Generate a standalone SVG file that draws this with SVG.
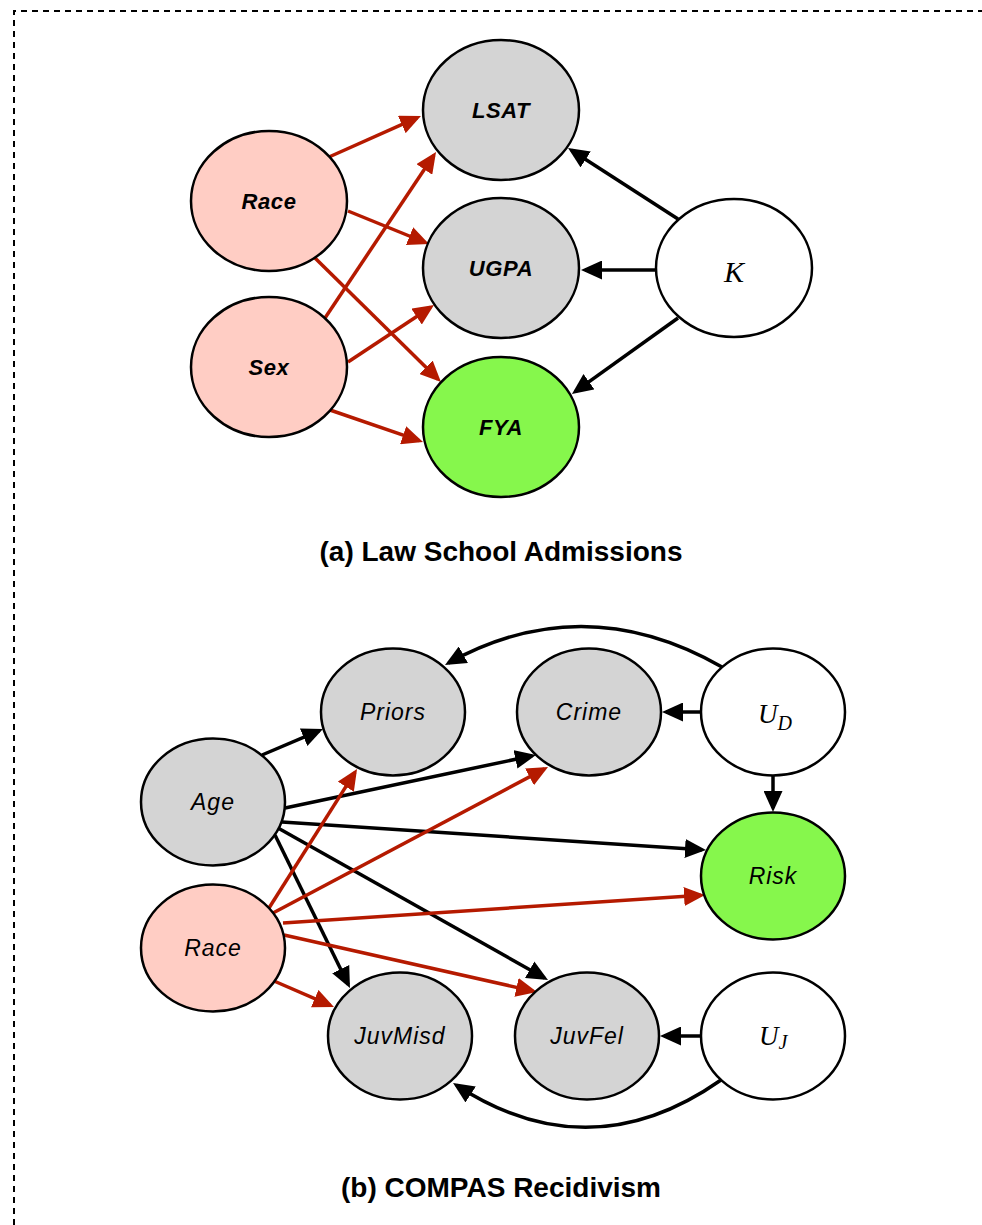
<svg xmlns="http://www.w3.org/2000/svg" width="982" height="1225" viewBox="0 0 982 1225">
  <style>
    .node { stroke: #000; stroke-width: 2.5; }
    .gray { fill: #d4d4d4; }
    .pink { fill: #ffcdc4; }
    .green { fill: #86f74c; }
    .white { fill: #fff; }
    .lblA { font-family: "Liberation Sans", Arial, sans-serif; font-size: 22px; font-weight: bold; font-style: italic; letter-spacing: 0.6px; text-anchor: middle; fill: #000; }
    .lblB { font-family: "Liberation Sans", Arial, sans-serif; font-size: 23px; font-style: italic; letter-spacing: 1px; text-anchor: middle; fill: #000; }
    .math { font-family: "Liberation Serif", "Times New Roman", serif; font-style: italic; fill: #000; }
    .caption { font-family: "Liberation Sans", Arial, sans-serif; font-size: 28px; font-weight: bold; text-anchor: middle; fill: #000; }
    .blk { stroke: #000; stroke-width: 3.5; fill: none; marker-end: url(#headBlack); }
    .red { stroke: #b51a00; stroke-width: 3.5; fill: none; marker-end: url(#headRed); }
  </style>
  <defs>
    <marker id="headBlack" markerUnits="userSpaceOnUse" markerWidth="21" markerHeight="19" refX="17" refY="9.5" orient="auto" viewBox="0 0 21 19">
      <path d="M0,0 L21,9.5 L0,19 z" fill="#000"/>
    </marker>
    <marker id="headRed" markerUnits="userSpaceOnUse" markerWidth="21" markerHeight="19" refX="17" refY="9.5" orient="auto" viewBox="0 0 21 19">
      <path d="M0,0 L21,9.5 L0,19 z" fill="#b51a00"/>
    </marker>
  </defs>

  <!-- dashed frame -->
  <path d="M14,1225 L14,11 L982,11" fill="none" stroke="#000" stroke-width="2" stroke-dasharray="6 5"/>

  <!-- connectors -->
  <g id="connectors">
    <!-- (a) law school -->
    <line class="red" x1="329" y1="157" x2="417.3" y2="117.6"/>
    <line class="red" x1="325" y1="318" x2="433.8" y2="155.3"/>
    <line class="red" x1="348" y1="211" x2="425.3" y2="242.5"/>
    <line class="red" x1="315" y1="258" x2="438.1" y2="379.2"/>
    <line class="red" x1="348" y1="362" x2="430.7" y2="307.2"/>
    <line class="red" x1="330" y1="410" x2="419.2" y2="440.7"/>
    <line class="blk" x1="678" y1="219" x2="571.4" y2="150.2"/>
    <line class="blk" x1="656" y1="270" x2="585" y2="270"/>
    <line class="blk" x1="678" y1="318" x2="575.2" y2="391.6"/>
    <!-- (b) compas -->
    <path class="blk" d="M722,667 Q584,588 448.5,663"/>
    <line class="blk" x1="702" y1="712" x2="666" y2="712"/>
    <line class="blk" x1="773" y1="775.5" x2="773" y2="808"/>
    <line class="blk" x1="262" y1="755" x2="319.3" y2="730.6"/>
    <line class="blk" x1="285" y1="808" x2="532.1" y2="755.8"/>
    <line class="blk" x1="282" y1="822" x2="702" y2="849.7"/>
    <line class="blk" x1="278" y1="828" x2="544.5" y2="978"/>
    <line class="blk" x1="275" y1="835" x2="348.2" y2="984.4"/>
    <line class="red" x1="269" y1="908" x2="354.9" y2="772.4"/>
    <line class="red" x1="273" y1="913" x2="544.5" y2="768.9"/>
    <line class="red" x1="283" y1="923" x2="701" y2="895.3"/>
    <line class="red" x1="284" y1="935" x2="533.1" y2="991.1"/>
    <line class="red" x1="274" y1="981" x2="330.3" y2="1005.4"/>
    <line class="blk" x1="701" y1="1036" x2="664" y2="1036"/>
    <path class="blk" d="M721,1080 Q590,1172 456.4,1085.2"/>
  </g>

  <!-- (a) Law School Admissions -->
  <g id="a-race"><ellipse class="node pink" cx="269" cy="201" rx="78" ry="70"/><text class="lblA" x="269" y="209">Race</text></g>
  <g id="a-sex"><ellipse class="node pink" cx="269" cy="367" rx="78" ry="70"/><text class="lblA" x="269" y="375">Sex</text></g>
  <g id="a-lsat"><ellipse class="node gray" cx="501" cy="110" rx="78" ry="70"/><text class="lblA" x="501" y="118">LSAT</text></g>
  <g id="a-ugpa"><ellipse class="node gray" cx="501" cy="268" rx="78" ry="70"/><text class="lblA" x="501" y="276">UGPA</text></g>
  <g id="a-fya"><ellipse class="node green" cx="501" cy="427" rx="78" ry="70"/><text class="lblA" x="501" y="435">FYA</text></g>
  <g id="a-k"><ellipse class="node white" cx="734" cy="268" rx="78" ry="69"/><text class="math" x="734" y="282" font-size="30" text-anchor="middle">K</text></g>
  <text class="caption" x="501" y="561">(a) Law School Admissions</text>

  <!-- (b) COMPAS Recidivism -->
  <g id="b-priors"><ellipse class="node gray" cx="393" cy="712" rx="72" ry="63.5"/><text class="lblB" x="393" y="720">Priors</text></g>
  <g id="b-crime"><ellipse class="node gray" cx="589" cy="712" rx="72" ry="63.5"/><text class="lblB" x="589" y="720">Crime</text></g>
  <g id="b-ud"><ellipse class="node white" cx="773" cy="712" rx="72" ry="63.5"/><text class="math" x="758" y="723" font-size="27">U<tspan font-size="20" dy="7">D</tspan></text></g>
  <g id="b-age"><ellipse class="node gray" cx="213" cy="802" rx="72" ry="63.5"/><text class="lblB" x="213" y="810">Age</text></g>
  <g id="b-race"><ellipse class="node pink" cx="213" cy="948" rx="72" ry="63.5"/><text class="lblB" x="213" y="956">Race</text></g>
  <g id="b-risk"><ellipse class="node green" cx="773" cy="876" rx="72" ry="63.5"/><text class="lblB" x="773" y="884">Risk</text></g>
  <g id="b-juvmisd"><ellipse class="node gray" cx="400" cy="1036" rx="72" ry="63.5"/><text class="lblB" x="400" y="1044">JuvMisd</text></g>
  <g id="b-juvfel"><ellipse class="node gray" cx="587" cy="1036" rx="72" ry="63.5"/><text class="lblB" x="587" y="1044">JuvFel</text></g>
  <g id="b-uj"><ellipse class="node white" cx="773" cy="1036" rx="72" ry="63.5"/><text class="math" x="759" y="1045" font-size="27">U<tspan font-size="20" dy="4">J</tspan></text></g>
  <text class="caption" x="501" y="1197">(b) COMPAS Recidivism</text>
</svg>
